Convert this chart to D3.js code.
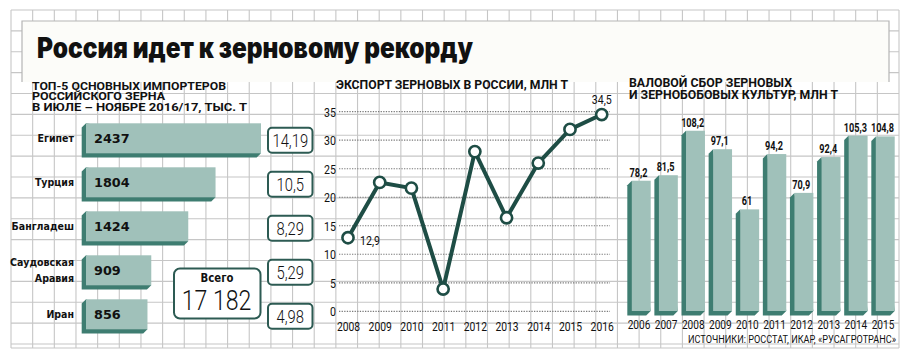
<!DOCTYPE html>
<html><head><meta charset="utf-8">
<script src="https://cdn.jsdelivr.net/npm/d3@7"></script>
<style>body{margin:0;background:#fff}svg{display:block}</style>
</head><body><svg id="c" width="915" height="359"></svg>
<script>
// ---------- DATA ----------
const importers = ["Египет", "Турция", "Бангладеш", "Саудовская Аравия", "Иран"];
const importVolumes = [2437, 1804, 1424, 909, 856];
const importShares = ["14,19", "10,5", "8,29", "5,29", "4,98"];
const importTotalLabel = "Всего";
const importTotal = "17 182";

const exportYears = [2008, 2009, 2010, 2011, 2012, 2013, 2014, 2015, 2016];
const exportValues = [12.9, 22.6, 21.6, 3.9, 28.0, 16.4, 26.0, 31.9, 34.5];
const exportTicks = [0, 5, 10, 15, 20, 25, 30, 35];
const exportLabelled = {2008: "12,9", 2016: "34,5"};

const harvestYears = [2006, 2007, 2008, 2009, 2010, 2011, 2012, 2013, 2014, 2015];
const harvestValues = [78.2, 81.5, 108.2, 97.1, 61, 94.2, 70.9, 92.4, 105.3, 104.8];
const harvestLabels = ["78,2", "81,5", "108,2", "97,1", "61", "94,2", "70,9", "92,4", "105,3", "104,8"];

const titleText = "Россия идет к зерновому рекорду";
const leftTitle = ["ТОП-5 ОСНОВНЫХ ИМПОРТЕРОВ", "РОССИЙСКОГО ЗЕРНА", "В ИЮЛЕ – НОЯБРЕ 2016/17, ТЫС. Т"];
const midTitle = "ЭКСПОРТ ЗЕРНОВЫХ В РОССИИ, МЛН Т";
const rightTitle = ["ВАЛОВОЙ СБОР ЗЕРНОВЫХ", "И ЗЕРНОБОБОВЫХ КУЛЬТУР, МЛН Т"];
const sourceText = "ИСТОЧНИКИ: РОССТАТ, ИКАР, «РУСАГРОТРАНС»";

// ---------- STYLE ----------
const FACE = "#a0c1ba", SIDE = "#3e7d71", DARK = "#1e4d45", BOXC = "#2d5b53";
const GRID = "#c6c6c6";
const COND = "'Roboto', 'DejaVu Sans', sans-serif";

const svg = d3.select("#c");

function fit(sel, w) {
  sel.attr("textLength", w).attr("lengthAdjust", "spacingAndGlyphs");
}
function condense(sel, f) {
  sel.each(function () {
    const L = this.getComputedTextLength();
    this.setAttribute("textLength", L * f);
    this.setAttribute("lengthAdjust", "spacingAndGlyphs");
  });
}

// ---------- GRID BACKGROUND ----------
const gx0 = 11, gx1 = 899, gy0 = 10, gy1 = 344;
const grid = svg.append("g").attr("stroke", GRID).attr("stroke-width", 1.1);
d3.range(0, 42).forEach(k => {
  const x = gx0 + k * (gx1 - gx0) / 41;
  grid.append("line").attr("x1", x).attr("x2", x).attr("y1", gy0).attr("y2", 348);
});
d3.range(0, 17).forEach(k => {
  const y = gy0 + k * (gy1 - gy0) / 16;
  grid.append("line").attr("x1", gx0).attr("x2", gx1).attr("y1", y).attr("y2", y);
});
grid.append("line").attr("x1", gx0).attr("x2", gx1).attr("y1", 348).attr("y2", 348);

// ---------- TITLE BOX ----------
svg.append("rect").attr("x", 22).attr("y", 21).attr("width", 867).attr("height", 61)
  .attr("fill", "#fcfcf9");
svg.append("path").attr("d", "M22,82 V21 H889 V82").attr("fill", "none")
  .attr("stroke", "#b5b5b5").attr("stroke-width", 1.2);
svg.append("text").attr("x", 37).attr("y", 58).text(titleText)
  .attr("font-family", "'Inter', 'DejaVu Sans', sans-serif").attr("font-weight", 900)
  .attr("font-size", 28).attr("fill", "#111").call(fit, 436);

// ---------- PANEL TITLES ----------
const lw = [194, 133, 215];
const lt = svg.append("text").attr("font-family", COND).attr("font-weight", 700)
  .attr("font-size", 10.4).attr("fill", "#111");
leftTitle.forEach((t, i) => {
  lt.append("tspan").attr("x", 32).attr("y", 89.5 + i * 10.5).text(t).call(fit, lw[i]);
});
svg.append("text").attr("x", 336).attr("y", 88.5).text(midTitle)
  .attr("font-family", COND).attr("font-weight", 700).attr("font-size", 12.5)
  .attr("fill", "#111").call(fit, 232);
const rw = [163, 209];
const rt = svg.append("text").attr("font-family", COND).attr("font-weight", 700)
  .attr("font-size", 12).attr("fill", "#111");
rightTitle.forEach((t, i) => {
  rt.append("tspan").attr("x", 629).attr("y", 86.7 + i * 12.3).text(t).call(fit, rw[i]);
});

// ---------- LEFT: IMPORTERS ----------
const xL = d3.scaleLinear().domain([0, 2437]).range([86, 261]);
const yL = d3.scaleBand().domain(importers).range([116.3, 336.3]).paddingInner(0.318).paddingOuter(0.159);
const dL = 4.3;
const left = svg.append("g");
const lrows = left.selectAll("g.row").data(importers.map((c, i) => ({c, v: importVolumes[i], s: importShares[i]})))
  .join("g").attr("class", "row");
lrows.append("path").attr("fill", SIDE).attr("d", d => {
  const x0 = xL(0), x1 = xL(d.v), t = yL(d.c), b = t + yL.bandwidth();
  return `M${x0},${t} L${x0 - dL},${t + dL} L${x0 - dL},${b + dL} L${x1 - dL},${b + dL} L${x1},${b} Z`;
});
lrows.append("rect").attr("fill", FACE)
  .attr("x", xL(0)).attr("y", d => yL(d.c))
  .attr("width", d => xL(d.v) - xL(0)).attr("height", yL.bandwidth());
lrows.append("text").attr("x", 94).attr("y", d => yL(d.c) + yL.bandwidth() / 2 + 5)
  .text(d => d.v).attr("font-family", "'DejaVu Sans', sans-serif").attr("font-weight", 700)
  .attr("font-size", 12.8).attr("fill", "#111");
// category labels
lrows.each(function (d) {
  const g = d3.select(this);
  const words = d.c.split(" ");
  const cy = yL(d.c) + yL.bandwidth() / 2;
  const lines = words.length > 1 ? words : [d.c];
  lines.forEach((w, j) => {
    const y = lines.length > 1 ? cy - 4.3 + j * 15.6 : cy + 3.5;
    g.append("text").attr("x", 74).attr("y", y).attr("text-anchor", "end").text(w)
      .attr("font-family", "'DejaVu Sans', sans-serif").attr("font-weight", 700)
      .attr("font-size", 10.5).attr("fill", "#111").call(condense, 0.9);
  });
});
// share boxes
lrows.append("rect").attr("x", 268).attr("width", 44.5).attr("height", 25).attr("rx", 4)
  .attr("y", d => yL(d.c) + yL.bandwidth() / 2 + 2 - 12.5)
  .attr("fill", "#fff").attr("stroke", BOXC).attr("stroke-width", 2);
lrows.append("text").attr("x", 290.3).attr("text-anchor", "middle")
  .attr("y", d => yL(d.c) + yL.bandwidth() / 2 + 8.5).text(d => d.s)
  .attr("font-family", COND).attr("font-weight", 300).attr("font-size", 18.5)
  .attr("fill", "#111").call(condense, 0.8);
// total box
left.append("rect").attr("x", 174).attr("y", 268.5).attr("width", 86.5).attr("height", 50).attr("rx", 6)
  .attr("fill", "#fff").attr("stroke", BOXC).attr("stroke-width", 2);
left.append("text").attr("x", 217).attr("y", 282).attr("text-anchor", "middle").text(importTotalLabel)
  .attr("font-family", "'DejaVu Sans', sans-serif").attr("font-weight", 700).attr("font-size", 11.5)
  .attr("fill", "#111").call(condense, 0.88);
left.append("text").attr("x", 216.5).attr("y", 309.5).attr("text-anchor", "middle").text(importTotal)
  .attr("font-family", COND).attr("font-weight", 300).attr("font-size", 27.5)
  .attr("fill", "#111").call(condense, 0.84);

// ---------- MIDDLE: EXPORT LINE ----------
const xM = d3.scalePoint().domain(exportYears).range([348, 601.7]);
const yM = d3.scaleLinear().domain([0, 35]).range([311.3, 111.7]);
const mid = svg.append("g");
mid.selectAll("line.dot").data(exportTicks).join("line").attr("class", "dot")
  .attr("x1", 339).attr("x2", 610).attr("y1", d => yM(d)).attr("y2", d => yM(d))
  .attr("stroke", "#7a7a7a").attr("stroke-width", 1.2).attr("stroke-dasharray", "1.3,1.3");
const yAxis = mid.append("g").attr("transform", "translate(336,0)")
  .call(d3.axisLeft(yM).tickValues(exportTicks).tickSize(0).tickPadding(0));
yAxis.select(".domain").remove();
yAxis.selectAll("text").attr("font-family", COND).attr("font-size", 12.5).attr("fill", "#111")
  .attr("dy", "0.36em").call(condense, 0.85);
const xAxisM = mid.append("g").attr("transform", "translate(0,322)")
  .call(d3.axisBottom(xM).tickSize(0).tickPadding(0).tickFormat(d3.format("d")));
xAxisM.select(".domain").remove();
xAxisM.selectAll("text").attr("font-family", COND).attr("font-size", 12).attr("fill", "#111")
  .attr("dy", "0.71em").call(condense, 0.86);
const pts = exportYears.map((y, i) => ({y, v: exportValues[i]}));
mid.append("path").datum(pts)
  .attr("d", d3.line().x(d => xM(d.y)).y(d => yM(d.v)))
  .attr("fill", "none").attr("stroke", DARK).attr("stroke-width", 4).attr("stroke-linejoin", "round");
mid.selectAll("circle").data(pts).join("circle")
  .attr("cx", d => xM(d.y)).attr("cy", d => yM(d.v)).attr("r", 5.6)
  .attr("fill", "#fff").attr("stroke", DARK).attr("stroke-width", 2.6);
mid.selectAll("text.lab").data(pts.filter(d => exportLabelled[d.y])).join("text").attr("class", "lab")
  .attr("x", d => d.y === 2008 ? xM(d.y) + 12 : xM(d.y))
  .attr("y", d => d.y === 2008 ? yM(d.v) + 7 : yM(d.v) - 11)
  .attr("text-anchor", d => d.y === 2008 ? "start" : "middle")
  .text(d => exportLabelled[d.y])
  .attr("font-family", COND).attr("font-size", 12.5).attr("fill", "#111").call(condense, 0.85);

// ---------- RIGHT: HARVEST BARS ----------
const xR = d3.scaleBand().domain(harvestYears).range([625.45, 896.55]).paddingInner(0.136).paddingOuter(0.068);
const yR = d3.scaleLinear().domain([0, 110]).range([311, 311 - 110 * 1.666]);
const dR = 4.5;
const right = svg.append("g");
const rb = right.selectAll("g.bar").data(harvestYears.map((y, i) => ({y, v: harvestValues[i], l: harvestLabels[i]})))
  .join("g").attr("class", "bar");
rb.append("path").attr("fill", SIDE).attr("d", d => {
  const x0 = xR(d.y) + dR, x1 = xR(d.y) + xR.bandwidth(), t = yR(d.v), b = yR(0);
  return `M${x0},${t} L${x0 - dR},${t + dR} L${x0 - dR},${b + dR} L${x1 - dR},${b + dR} L${x1},${b} Z`;
});
rb.append("rect").attr("fill", FACE)
  .attr("x", d => xR(d.y) + dR).attr("y", d => yR(d.v))
  .attr("width", xR.bandwidth() - dR).attr("height", d => yR(0) - yR(d.v));
rb.append("text").attr("x", d => xR(d.y) + xR.bandwidth() / 2 - 0.5).attr("y", d => yR(d.v) - 4)
  .attr("text-anchor", "middle").text(d => d.l)
  .attr("font-family", COND).attr("font-weight", 700).attr("font-size", 12.5)
  .attr("fill", "#111").call(condense, 0.73);
const xAxisR = right.append("g").attr("transform", "translate(0,320)")
  .call(d3.axisBottom(xR).tickSize(0).tickPadding(0).tickFormat(d3.format("d")));
xAxisR.select(".domain").remove();
xAxisR.selectAll("text").attr("font-family", COND).attr("font-size", 12).attr("fill", "#111")
  .attr("dy", "0.71em").call(condense, 0.84);
right.append("text").attr("x", 896).attr("y", 342.5).attr("text-anchor", "end").text(sourceText)
  .attr("font-family", COND).attr("font-size", 10).attr("fill", "#111").call(fit, 208);
</script></body></html>
